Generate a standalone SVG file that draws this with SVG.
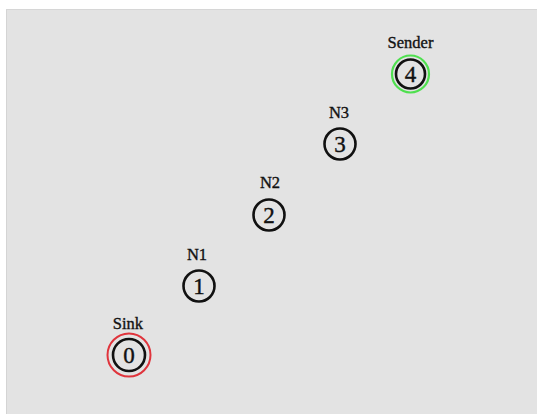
<svg xmlns="http://www.w3.org/2000/svg" width="537" height="414" viewBox="0 0 537 414">
  <style>
    .lbl { font-family: "Liberation Serif", "Times New Roman", serif; font-size: 16.5px; fill: #111; stroke: #111; stroke-width: 0.35; text-anchor: middle; }
    .num { font-family: "Liberation Serif", "Times New Roman", serif; font-size: 23px; fill: #111; stroke: #111; stroke-width: 0.4; text-anchor: middle; }
    .node { fill: none; stroke: #111; stroke-width: 2.6; }
    .sink { fill: none; stroke: #e0343c; stroke-width: 2; }
    .sender { fill: none; stroke: #4fe04f; stroke-width: 2.2; }
  </style>
  <!-- canvas -->
  <rect x="0" y="0" width="537" height="414" fill="#ffffff"/>
  <rect x="6" y="9" width="531" height="405" fill="#e3e3e3"/>
  <line x1="6.5" y1="9" x2="6.5" y2="414" stroke="#d4d4d4" stroke-width="1"/>
  <line x1="6" y1="9.5" x2="537" y2="9.5" stroke="#d6d6d6" stroke-width="1"/>

  <g id="connectors"></g>

  <g id="node0">
    <circle class="sink" cx="129" cy="355" r="21.5"/>
    <circle class="node" cx="129" cy="355" r="16"/>
    <text class="lbl" x="128" y="329">Sink</text>
    <text class="num" x="129" y="363">0</text>
  </g>
  <g id="node1">
    <circle class="node" cx="199" cy="286" r="15.5"/>
    <text class="lbl" x="197" y="260">N1</text>
    <text class="num" x="199" y="294">1</text>
  </g>
  <g id="node2">
    <circle class="node" cx="269" cy="215" r="15.5"/>
    <text class="lbl" x="270" y="188">N2</text>
    <text class="num" x="269" y="223">2</text>
  </g>
  <g id="node3">
    <circle class="node" cx="340" cy="144" r="15.5"/>
    <text class="lbl" x="339" y="118">N3</text>
    <text class="num" x="340" y="152">3</text>
  </g>
  <g id="node4">
    <circle class="sender" cx="410.5" cy="74" r="18.5"/>
    <circle class="node" cx="410.5" cy="74" r="14.5"/>
    <text class="lbl" x="410.5" y="48">Sender</text>
    <text class="num" x="410.5" y="82">4</text>
  </g>
</svg>
